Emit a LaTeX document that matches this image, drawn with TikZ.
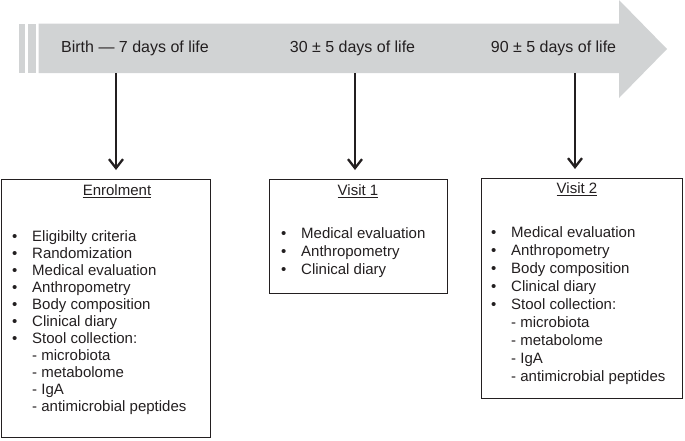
\documentclass[tikz,border=0pt]{standalone}
\usepackage{fontspec}
\setmainfont{Liberation Sans}
\usetikzlibrary{arrows.meta}

\definecolor{bandgray}{HTML}{D1D3D4}
\definecolor{ink}{HTML}{231F20}

\newcommand{\bul}[1]{\makebox[20pt][l]{\textbullet}#1}
\newcommand{\subitm}[1]{\hspace{20pt}- #1}

\begin{document}
\begin{tikzpicture}[x=1pt,y=-1pt,
    timeline/.style={font=\fontsize{16}{19}\selectfont, text=ink},
    visitbox/.style={draw=ink, line width=1.3pt, inner sep=0pt, anchor=north west},
    boxtitle/.style={font=\fontsize{15}{17}\selectfont, text=ink, inner sep=0pt},
    items/.style={font=\fontsize{15}{17}\selectfont, text=ink, align=left, anchor=north west, inner sep=0pt},
    down/.style={-{Straight Barb[length=9pt,width=14pt]}, line width=2.3pt, draw=ink, shorten >=9pt}]% [ show background grid ]

    \useasboundingbox (0,0) rectangle (685,440);

    % time line
    \fill[bandgray] (19,23.5) rectangle (25,73);
    \fill[bandgray] (27.7,23.5) rectangle (36,73);
    \fill[bandgray] (38.7,23.5) -- (619,23.5) -- (619,0) -- (667,49) -- (619,98) -- (619,73) -- (38.7,73) -- cycle;

    \node[timeline] (birth) at (135,48) {Birth — 7 days of life};
    \node[timeline] (day30) at (352.5,48) {30 ± 5 days of life};
    \node[timeline] (day90) at (553.5,48) {90 ± 5 days of life};

    \coordinate (t1) at (116,73);
    \coordinate (t2) at (355,73);
    \coordinate (t3) at (575,73);

    \node[visitbox, minimum width=209pt, minimum height=258pt] (enrol) at (1,179) {};
    \node[boxtitle] (enroltitle) at (117,190) {Enrolment};
    \draw[ink, line width=1pt] ([yshift=-2.5pt]enroltitle.base west) -- ([yshift=-2.5pt]enroltitle.base east);
    \node[items] (enrollist) at (12,230) {
        \bul{Eligibilty criteria}\\
        \bul{Randomization}\\
        \bul{Medical evaluation}\\
        \bul{Anthropometry}\\
        \bul{Body composition}\\
        \bul{Clinical diary}\\
        \bul{Stool collection:}\\
        \subitm{microbiota}\\
        \subitm{metabolome}\\
        \subitm{IgA}\\
        \subitm{antimicrobial peptides}};

    \node[visitbox, minimum width=178pt, minimum height=114pt] (visit1) at (269,179) {};
    \node[boxtitle] (visit1title) at (358,190) {Visit 1};
    \draw[ink, line width=1pt] ([yshift=-2.5pt]visit1title.base west) -- ([yshift=-2.5pt]visit1title.base east);
    \node[items, font=\fontsize{15}{18}\selectfont] (visit1list) at (281,227) {
        \bul{Medical evaluation}\\
        \bul{Anthropometry}\\
        \bul{Clinical diary}};

    \node[visitbox, minimum width=201pt, minimum height=220pt] (visit2) at (481,178) {};
    \node[boxtitle] (visit2title) at (577,188) {Visit 2};
    \draw[ink, line width=1pt] ([yshift=-2.5pt]visit2title.base west) -- ([yshift=-2.5pt]visit2title.base east);
    \node[items, font=\fontsize{15}{18}\selectfont] (visit2list) at (491,226) {
        \bul{Medical evaluation}\\
        \bul{Anthropometry}\\
        \bul{Body composition}\\
        \bul{Clinical diary}\\
        \bul{Stool collection:}\\
        \subitm{microbiota}\\
        \subitm{metabolome}\\
        \subitm{IgA}\\
        \subitm{antimicrobial peptides}};

    \draw[down] (t1) -- (t1 |- enrol.north);
    \draw[down] (t2) -- (t2 |- visit1.north);
    \draw[down] (t3) -- (t3 |- visit2.north);

\end{tikzpicture}
\end{document}
